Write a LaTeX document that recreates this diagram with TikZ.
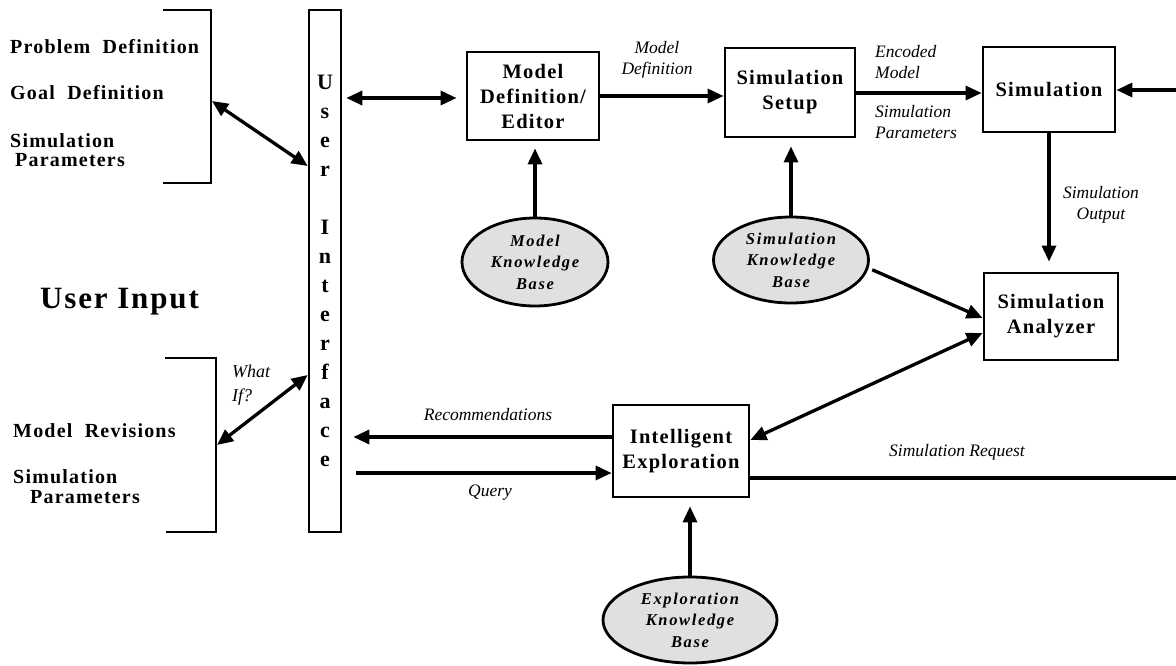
\documentclass[tikz,border=0pt]{standalone}
\usepackage{fontspec}
\setmainfont{Liberation Serif}
\newfontfamily\spserif[LetterSpace=6]{Liberation Serif}
\newfontfamily\kbserif[LetterSpace=10]{Liberation Serif}
\usetikzlibrary{arrows.meta,shapes.geometric}
\newcommand\blkfont{\spserif\bfseries\fontsize{20.5}{25}\selectfont}
\newcommand\uifont{\bfseries\fontsize{22}{29}\selectfont}
\newcommand\leftfont{\spserif\bfseries\fontsize{20}{20}\selectfont}
\newcommand\bigfont{\spserif\bfseries\fontsize{31}{32}\selectfont}
\newcommand\labfont{\itshape\fontsize{17.5}{21}\selectfont}
\newcommand\kbfont{\kbserif\bfseries\itshape\fontsize{16.5}{21.5}\selectfont}
\tikzset{
  blk/.style={draw, line width=2.8pt, align=center, font=\blkfont, inner sep=0pt},
  kb/.style={ellipse, draw, line width=2.8pt, fill=black!12, align=center, font=\kbfont, inner sep=0pt},
  arr/.style={line width=3.3pt, -{Triangle[length=16pt,width=14pt]}},
  darr/.style={line width=3.3pt, {Triangle[length=16pt,width=14pt]}-{Triangle[length=16pt,width=14pt]}},
  plain/.style={line width=3.3pt},
  brk/.style={line width=2.8pt},
  lab/.style={font=\labfont, inner sep=0pt},
  lefttxt/.style={font=\leftfont, anchor=base west, inner sep=0pt},
}
\begin{document}
\begin{tikzpicture}[x=1pt,y=-1pt]
\useasboundingbox (0,0) rectangle (1176,666);
\clip (0,0) rectangle (1176,666);

% left texts
\node[lefttxt] (pd) at (10,54) {Problem\ \ Definition};
\node[lefttxt] (gd) at (10,100) {Goal\ \ Definition};
\node[lefttxt] (sp1) at (10,148) {Simulation};
\node[lefttxt] (pp1) at (15,167) {Parameters};
\node[font=\bigfont, anchor=base west, inner sep=0pt] (ui) at (40,308) {User Input};
\node[lefttxt] (mr) at (13,437) {Model\ \ Revisions};
\node[lefttxt] (sp2) at (13,483) {Simulation};
\node[lefttxt] (pp2) at (30,503) {Parameters};

% brackets
\draw[brk] (163,10) -- (211,10) -- (211,183) -- (163,183);
\draw[brk] (165,358) -- (216,358) -- (216,532) -- (166,532);
\coordinate (tb) at (212,101);
\coordinate (bb) at (217,445);

% user interface bar
\node[draw, line width=2.6pt, minimum width=32, minimum height=522, inner sep=0pt,
      align=center, font=\uifont] (UI) at (325,271)
  {U\\s\\e\\r\\[29pt]I\\n\\t\\e\\r\\f\\a\\c\\e};

% blocks
\node[blk, minimum width=132, minimum height=88] (MD) at (533,96) {Model\\Definition/\\Editor};
\node[blk, minimum width=130, minimum height=89] (SS) at (790,92.5) {Simulation\\Setup};
\node[blk, minimum width=132, minimum height=85] (SIM) at (1049,89.5) {Simulation};
\node[blk, minimum width=134, minimum height=87] (SA) at (1051,316.5) {Simulation\\Analyzer};
\node[blk, minimum width=136, minimum height=92] (IE) at (681,451) {Intelligent\\Exploration};

% knowledge bases
\node[kb, minimum width=146, minimum height=88] (MKB) at (535,262) {Model\\Knowledge\\Base};
\node[kb, minimum width=155, minimum height=86] (SKB) at (791,260) {Simulation\\Knowledge\\Base};
\node[kb, minimum width=174, minimum height=86] (EKB) at (690,620) {Exploration\\Knowledge\\Base};

% labels
\node[lab, align=center] (lmd) at (657,60) {Model\\Definition};
\node[lab, align=left, anchor=west] (lem) at (875,62) {Encoded\\Model};
\node[lab, align=left, anchor=west] (lsp) at (875,122) {Simulation\\Parameters};
\node[lab, align=center] (lso) at (1101,205) {Simulation\\Output};
\node[lab] (lrec) at (488,415) {Recommendations};
\node[lab] (lq) at (490,493) {Query};
\node[lab] (lsr) at (957,452) {Simulation Request};
\node[lab, align=left, anchor=west, font=\itshape\fontsize{18}{24}\selectfont] (lwi) at (232,385) {What\\If?};

% right edge coordinates
\coordinate (edgeTop) at (1176,90);
\coordinate (edgeBot) at (1176,478);

% connectors
\draw[darr] (tb) -- (UI.west |- 0,166);
\draw[darr] (UI.west |- 0,375) -- (bb);
\draw[darr, shorten <=4pt, shorten >=9pt] (UI.east |- 0,98) -- (MD.west |- 0,98);
\draw[arr] (MD.east) -- (SS.west |- MD.east);
\draw[arr] (SS.east |- 0,93) -- (SIM.west |- 0,93);
\draw[arr] (edgeTop) -- (SIM.east |- edgeTop);
\draw[arr, shorten >=10pt] (SIM.south |- 0,132) -- (SIM.south |- SA.north);
\draw[arr, shorten >=7pt] (MKB.north) -- (MKB.north |- MD.south);
\draw[arr, shorten >=8pt] (SKB.north) -- (SKB.north |- SS.south);
\draw[arr, shorten >=8pt] (EKB.north |- 0,577) -- (EKB.north |- IE.south);
\draw[arr, shorten <=4pt] (SKB.-6) -- (SA.west |- 0,318);
\draw[darr] (SA.west |- 0,333) -- (IE.east |- 0,440);
\draw[arr, shorten >=11pt] (IE.west |- 0,437) -- (UI.east |- 0,437);
\draw[arr, shorten <=14pt] (UI.east |- 0,473) -- (IE.west |- 0,473);
\draw[plain] (IE.east |- 0,478) -- (edgeBot);
\end{tikzpicture}
\end{document}
